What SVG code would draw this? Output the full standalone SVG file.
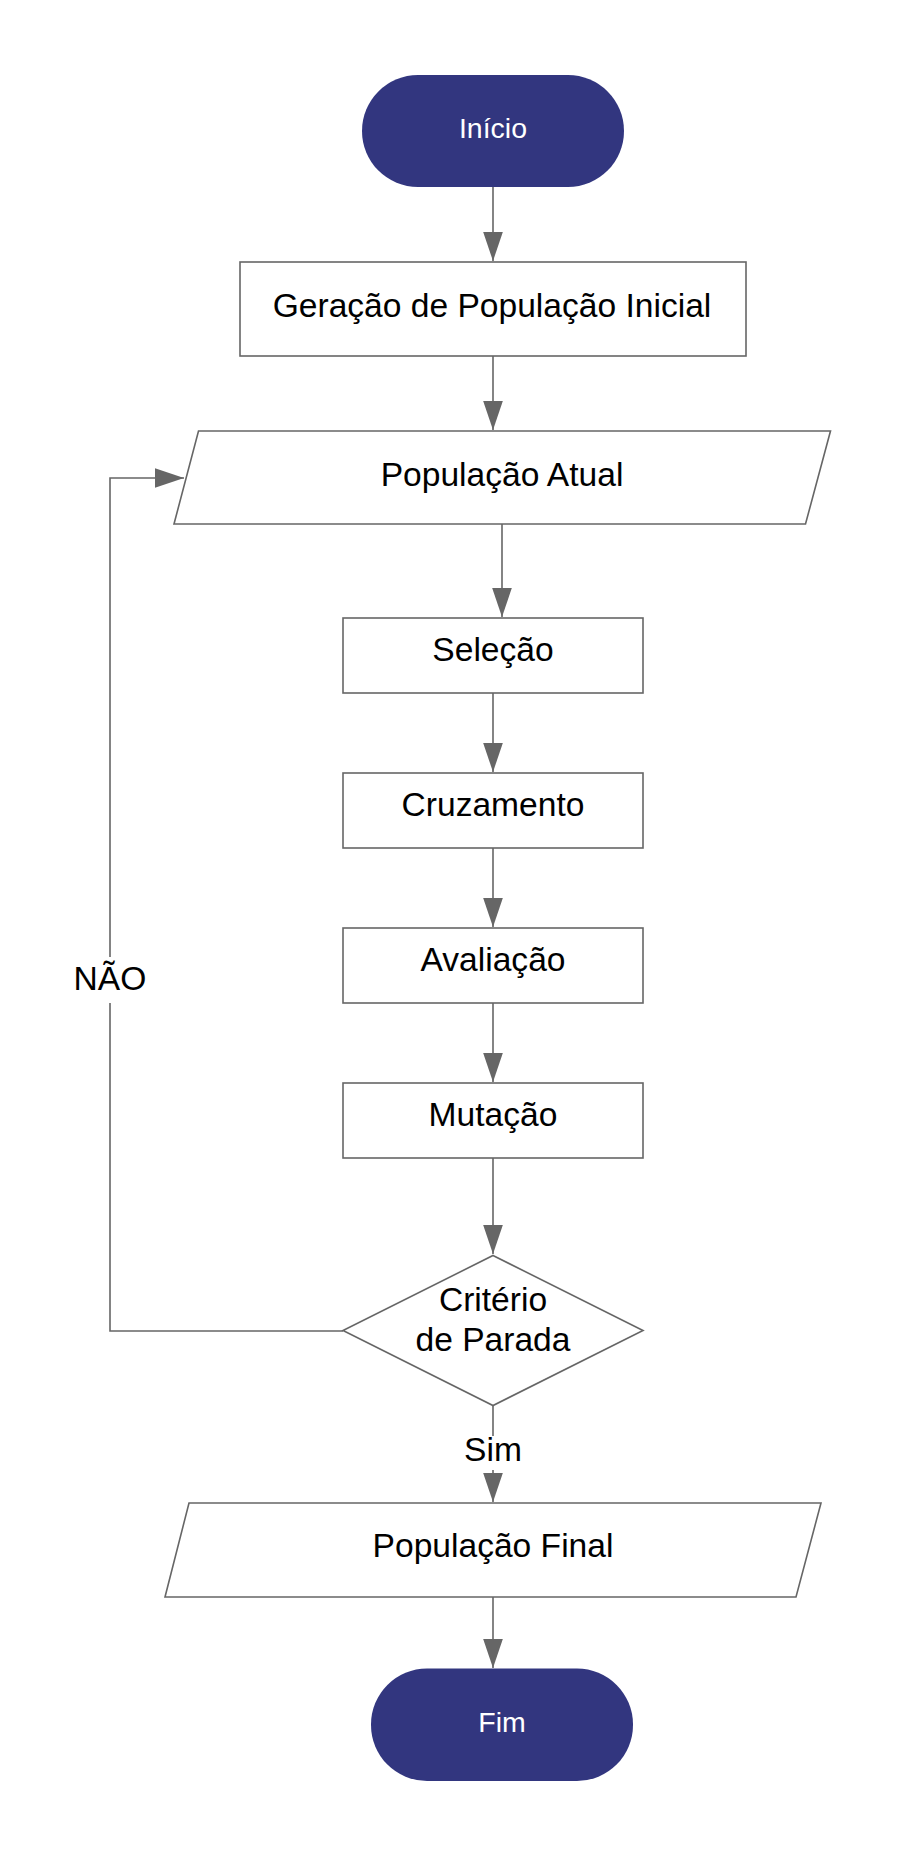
<svg xmlns="http://www.w3.org/2000/svg" width="906" height="1856" viewBox="0 0 906 1856">
  <style>
    .box { fill: #ffffff; stroke: #666666; stroke-width: 1.6; }
    .term { fill: #32367F; stroke: none; }
    .lbl { font-family: "Liberation Sans", Arial, sans-serif; font-size: 33.6px; fill: #000000; text-anchor: middle; }
    .tlbl { font-family: "Liberation Sans", Arial, sans-serif; font-size: 28.5px; fill: #ffffff; text-anchor: middle; }
    .edge { fill: none; stroke: #666666; stroke-width: 1.6; }
  </style>
  <defs>
    <marker id="arrow" markerUnits="userSpaceOnUse" markerWidth="31" markerHeight="21" refX="29.5" refY="10" orient="auto">
      <path d="M0,0 L29.5,10 L0,20 Z" fill="#666666"/>
    </marker>
  </defs>
  <rect width="906" height="1856" fill="#ffffff"/>

  <g id="connectors">
    <path class="edge" d="M493,187 V261" marker-end="url(#arrow)"/>
    <path class="edge" d="M493,356 V430" marker-end="url(#arrow)"/>
    <path class="edge" d="M502,524 V617" marker-end="url(#arrow)"/>
    <path class="edge" d="M493,693 V772" marker-end="url(#arrow)"/>
    <path class="edge" d="M493,848 V927" marker-end="url(#arrow)"/>
    <path class="edge" d="M493,1003 V1082" marker-end="url(#arrow)"/>
    <path class="edge" d="M493,1158 V1254" marker-end="url(#arrow)"/>
    <path class="edge" d="M493,1406 V1436"/>
    <path class="edge" d="M493,1470 V1502" marker-end="url(#arrow)"/>
    <path class="edge" d="M493,1597 V1668" marker-end="url(#arrow)"/>
    <path class="edge" d="M343,1331 H110 V1003"/>
    <path class="edge" d="M110,957 V478 H184" marker-end="url(#arrow)"/>
    <text class="lbl" x="110" y="990">NÃO</text>
    <text class="lbl" x="493" y="1461">Sim</text>
  </g>

  <g id="inicio">
    <rect class="term" x="362" y="75" width="262" height="112" rx="56" ry="56"/>
    <text class="tlbl" x="493" y="138">Início</text>
  </g>

  <g id="geracao">
    <rect class="box" x="240" y="262" width="506" height="94"/>
    <text class="lbl" x="492" y="317">Geração de População Inicial</text>
  </g>

  <g id="populacao-atual">
    <polygon class="box" points="198.5,431 830.5,431 805.5,524 174,524"/>
    <text class="lbl" x="502" y="486">População Atual</text>
  </g>

  <g id="selecao">
    <rect class="box" x="343" y="618" width="300" height="75"/>
    <text class="lbl" x="493" y="661">Seleção</text>
  </g>

  <g id="cruzamento">
    <rect class="box" x="343" y="773" width="300" height="75"/>
    <text class="lbl" x="493" y="816">Cruzamento</text>
  </g>

  <g id="avaliacao">
    <rect class="box" x="343" y="928" width="300" height="75"/>
    <text class="lbl" x="493" y="971">Avaliação</text>
  </g>

  <g id="mutacao">
    <rect class="box" x="343" y="1083" width="300" height="75"/>
    <text class="lbl" x="493" y="1126">Mutação</text>
  </g>

  <g id="criterio">
    <polygon class="box" points="493,1255.5 643,1330.5 493,1405.5 343,1330.5"/>
    <text class="lbl" x="493" y="1311">Critério</text>
    <text class="lbl" x="493" y="1351">de Parada</text>
  </g>

  <g id="populacao-final">
    <polygon class="box" points="189,1503 821,1503 796,1597 165,1597"/>
    <text class="lbl" x="493" y="1557">População Final</text>
  </g>

  <g id="fim">
    <rect class="term" x="371" y="1668.5" width="262" height="112.5" rx="56" ry="56"/>
    <text class="tlbl" x="502" y="1731.5">Fim</text>
  </g>
</svg>
